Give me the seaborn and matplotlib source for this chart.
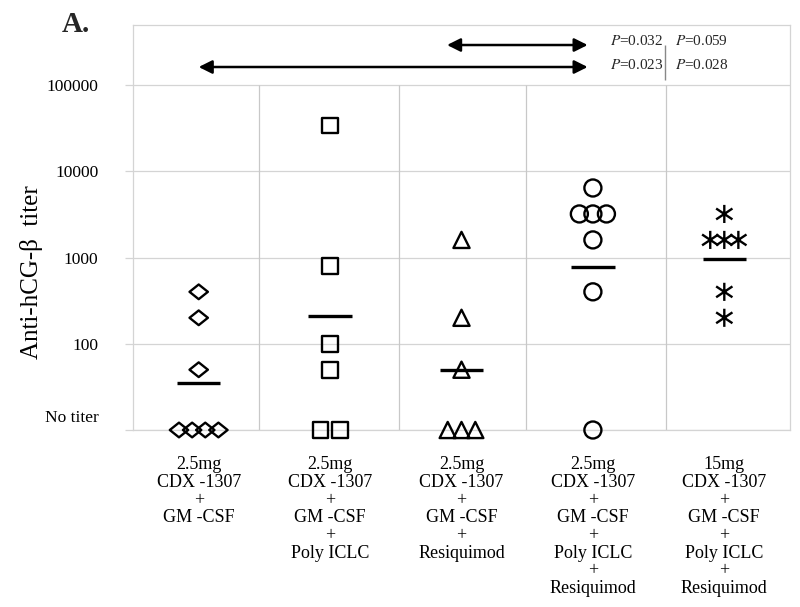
#!/usr/bin/env python3
"""Anti-hCG-beta titers per vaccine group (panel A), dot plot with group means."""

import numpy as np
import pandas as pd
import matplotlib
matplotlib.use('Agg')
import matplotlib.pyplot as plt
import seaborn as sns
from matplotlib.path import Path
from matplotlib.markers import MarkerStyle
from matplotlib.transforms import ScaledTranslation

NO_TITER = 10

group_labels = [
    '2.5mg\nCDX -1307\n+\nGM -CSF',
    '2.5mg\nCDX -1307\n+\nGM -CSF\n+\nPoly ICLC',
    '2.5mg\nCDX -1307\n+\nGM -CSF\n+\nResiquimod',
    '2.5mg\nCDX -1307\n+\nGM -CSF\n+\nPoly ICLC\n+\nResiquimod',
    '15mg\nCDX -1307\n+\nGM -CSF\n+\nPoly ICLC\n+\nResiquimod',
]
diamond_titers = [400, 200, 50, NO_TITER, NO_TITER, NO_TITER, NO_TITER]
square_titers = [34000, 800, 100, 50, NO_TITER, NO_TITER]
triangle_titers = [1600, 200, 50, NO_TITER, NO_TITER, NO_TITER]
circle_titers = [6400, 3200, 3200, 3200, 1600, 400, NO_TITER]
asterisk_titers = [3200, 1600, 1600, 1600, 400, 200]
group_means = [35, 210, 49, 780, 960]

y_ticks = [10, 100, 1000, 10000, 100000]
y_tick_labels = ['No titer', '100', '1000', '10000', '100000']

# (left group, right group, p-value 1, p-value 2)
comparisons = [(2, 3, '0.032', '0.059'), (0, 3, '0.023', '0.028')]

sns.set_theme(style='white')
plt.rcParams['font.family'] = ['Liberation Serif', 'DejaVu Serif']
plt.rcParams['mathtext.fontset'] = 'stix'

# markers
diamond = Path([(0, 0.8), (1, 0), (0, -0.8), (-1, 0), (0, 0.8)], closed=True)
asterisk = Path([(0, 1), (0, -1), (-0.9, 0.6), (0.9, -0.6), (-0.9, -0.6), (0.9, 0.6)],
                [Path.MOVETO, Path.LINETO, Path.MOVETO, Path.LINETO, Path.MOVETO, Path.LINETO])
markers = [MarkerStyle(diamond), 's', '^', 'o', MarkerStyle(asterisk)]
sizes = [175, 130, 135, 150, 170]
steps = [0.1, 0.145, 0.105, 0.103, 0.107]

all_titers = [diamond_titers, square_titers, triangle_titers, circle_titers, asterisk_titers]
rows = []
for g, vals in enumerate(all_titers):
    for v in vals:
        rows.append({'group': g, 'titer': v})
df = pd.DataFrame(rows)
# spread repeated values side by side
df['rank'] = df.groupby(['group', 'titer']).cumcount()
df['n'] = df.groupby(['group', 'titer'])['titer'].transform('size')
df['x'] = df['group'] + (df['rank'] - (df['n'] - 1) / 2) * df['group'].map(lambda g: steps[g])

fig = plt.figure(figsize=(8, 6.07), dpi=100)
ax = fig.add_axes([0.16625, 0.2916, 0.82125, 0.6672])

ax.set_yscale('log')
ax.set_ylim(10, 10 ** 5.696)
ax.set_xlim(-0.5, 4.5)

for g in range(5):
    sub = df[df['group'] == g]
    sns.scatterplot(data=sub, x='x', y='titer', marker=markers[g], s=sizes[g],
                    facecolors='none', edgecolor='black', linewidth=1.7,
                    clip_on=False, zorder=4, ax=ax)

ax.hlines(group_means, np.arange(5) - 0.165, np.arange(5) + 0.165,
          color='black', lw=2.4, zorder=5)

# grid + column separators
grid_c = '#d4d4d4'
for t in y_ticks:
    ax.axhline(t, color=grid_c, lw=0.9, zorder=1)
ax.vlines([0.46, 1.525, 2.49, 3.555], 10, 100000, color='#c8c8c8', lw=0.9, zorder=1)
for sp in ax.spines.values():
    sp.set_color(grid_c)
    sp.set_linewidth(0.9)

ax.set_yticks(y_ticks)
ax.set_yticklabels(y_tick_labels)
ax.minorticks_off()
ax.tick_params(axis='y', length=6, width=0.9, color=grid_c, left=True,
               labelsize=12.5, pad=19, labelcolor='black')
offset = ScaledTranslation(0, 0.14, fig.dpi_scale_trans)
lbl = ax.get_yticklabels()[0]
lbl.set_transform(lbl.get_transform() + offset)

ax.set_xticks(range(5))
ax.set_xticklabels(group_labels, fontsize=13, linespacing=1.05, va='top')
ax.tick_params(axis='x', length=0, pad=19, labelcolor='black')
ax.set_xlabel('')
ax.set_ylabel('Anti-hCG-\u03b2  titer', fontsize=18, color='black')
ax.yaxis.set_label_coords(-0.137, 0.39)

# significance arrows
arrow_y = [10 ** 5.464, 10 ** 5.209]
text_y = [10 ** 5.51, 10 ** 5.232]
for (g1, g2, p1, p2), ya, yt in zip(comparisons, arrow_y, text_y):
    left = g1 - 0.11 if g1 == 2 else g1
    ax.annotate('', xy=(g2 - 0.04, ya), xytext=(left, ya),
                arrowprops=dict(arrowstyle='<|-|>', color='black', lw=1.8,
                                mutation_scale=20, shrinkA=0, shrinkB=0))
    ax.text(3.13, yt, f'$P$={p1}', fontsize=11, va='center', ha='left')
    ax.text(3.625, yt, f'$P$={p2}', fontsize=11, va='center', ha='left')
ax.vlines(3.55, 10 ** 5.058, 10 ** 5.464, color='#888888', lw=1)

fig.text(0.0775, 0.947, 'A.', fontsize=21, fontweight='bold', va='baseline')

fig.savefig('out.png', dpi=100)
